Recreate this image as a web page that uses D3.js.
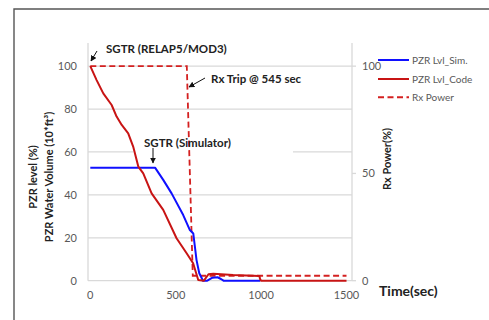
<!DOCTYPE html>
<html>
<head>
<meta charset="utf-8">
<script src="https://cdn.jsdelivr.net/npm/d3@7"></script>
<style>
  body { margin: 0; background: #fff; }
  svg { font-family: Lato, "Open Sans", sans-serif; }
</style>
</head>
<body>
<svg id="chart" width="489" height="320"></svg>
<script>
// time (sec) and PZR level from the simulator
const simTime = [0, 379, 427, 476, 544, 583, 603, 622, 638, 660, 685, 715, 745, 765, 780, 995];
const simLevel = [52.7, 52.7, 47, 40.7, 30.6, 23.6, 22, 9.6, 3.5, 0, 0, 1.4, 1.6, 0.8, 0, 0];

// PZR level from RELAP5/MOD3
const codeTime = [0, 37, 76, 125, 154, 184, 222, 251, 281, 310, 359, 427, 505, 564, 602, 632, 665, 692, 720, 836, 990, 994, 1000, 1500];
const codeLevel = [100, 93.5, 87.3, 81.9, 76.5, 72.6, 68.7, 62.5, 53.2, 50, 40.7, 33, 19.8, 12.8, 8.1, 0.3, 0, 3, 3.2, 2.6, 2.2, 0.8, 0, 0];

// reactor power (%)
const powerTime = [0, 565, 600, 1500];
const powerValue = [100, 100, 2.3, 2.3];

const xTicks = [0, 500, 1000, 1500];
const leftTicks = [0, 20, 40, 60, 80, 100];
const rightTicks = [0, 50, 100];

const svg = d3.select("#chart");

const x = d3.scaleLinear().domain([0, 1500]).range([90.3, 346.5]);
const yL = d3.scaleLinear().domain([0, 110]).range([280.7, 44.7]);
const yR = d3.scaleLinear().domain([0, 110]).range([280.7, 44.7]);
const plotLeft = 88, plotRight = 352;

// outer frame
svg.append("path")
  .attr("d", "M14,322 L14,9 L492,9")
  .attr("fill", "none")
  .attr("stroke", "#555")
  .attr("stroke-width", 1.4);

// gridlines
svg.append("g").selectAll("line")
  .data(leftTicks)
  .enter().append("line")
  .attr("x1", plotLeft).attr("x2", plotRight)
  .attr("y1", d => yL(d)).attr("y2", d => yL(d))
  .attr("stroke", "#d9d9d9")
  .attr("stroke-width", 1.3);

// axis lines
svg.append("line").attr("x1", plotLeft).attr("x2", plotLeft).attr("y1", 43).attr("y2", yL(0))
  .attr("stroke", "#d9d9d9").attr("stroke-width", 1.3);
svg.append("line").attr("x1", plotRight).attr("x2", plotRight).attr("y1", 43).attr("y2", yL(0))
  .attr("stroke", "#d9d9d9").attr("stroke-width", 1.3);
svg.append("g").selectAll("line")
  .data(rightTicks)
  .enter().append("line")
  .attr("x1", plotRight).attr("x2", plotRight + 4)
  .attr("y1", d => yR(d)).attr("y2", d => yR(d))
  .attr("stroke", "#d9d9d9").attr("stroke-width", 1.3);

// white text box behind "SGTR (Simulator)"
svg.append("rect").attr("x", 133).attr("y", 132).attr("width", 160).attr("height", 21).attr("fill", "#fff");

// tick labels
svg.append("g").selectAll("text")
  .data(leftTicks)
  .enter().append("text")
  .attr("x", 77).attr("y", d => yL(d)).attr("dy", "0.35em")
  .attr("text-anchor", "end")
  .attr("font-size", 11).attr("fill", "#595959")
  .text(d => d);

svg.append("g").selectAll("text")
  .data(rightTicks)
  .enter().append("text")
  .attr("x", 362).attr("y", d => yR(d)).attr("dy", "0.35em")
  .attr("text-anchor", "start")
  .attr("font-size", 11).attr("fill", "#595959")
  .text(d => d);

svg.append("g").selectAll("text")
  .data(xTicks)
  .enter().append("text")
  .attr("x", d => x(d)).attr("y", 295).attr("dy", "0.35em")
  .attr("text-anchor", "middle")
  .attr("font-size", 11).attr("fill", "#595959")
  .text(d => d);

// series
const line = (ts, vs, yScale) => d3.line()
  .x((d, i) => x(ts[i]))
  .y(d => yScale(d))(vs);

svg.append("path").attr("d", line(powerTime, powerValue, yR))
  .attr("fill", "none").attr("stroke", "#d42020").attr("stroke-width", 1.8)
  .attr("stroke-dasharray", "6,3.5");

svg.append("path").attr("d", line(simTime, simLevel, yL))
  .attr("fill", "none").attr("stroke", "#1010ff").attr("stroke-width", 2)
  .attr("stroke-linejoin", "round");

svg.append("path").attr("d", line(codeTime, codeLevel, yL))
  .attr("fill", "none").attr("stroke", "#c81414").attr("stroke-width", 2)
  .attr("stroke-linejoin", "round");

// axis titles
svg.append("text")
  .attr("transform", "translate(37,177) rotate(-90)")
  .attr("text-anchor", "middle").attr("font-size", 11).attr("font-weight", "bold").attr("fill", "#222")
  .text("PZR level (%)");
svg.append("text")
  .attr("transform", "translate(53,177) rotate(-90)")
  .attr("text-anchor", "middle").attr("font-size", 11).attr("font-weight", "bold").attr("fill", "#222")
  .text("PZR Water Volume (10*ft³)");
svg.append("text")
  .attr("transform", "translate(391,159) rotate(-90)")
  .attr("text-anchor", "middle").attr("font-size", 11).attr("font-weight", "bold").attr("fill", "#222")
  .text("Rx Power(%)");
svg.append("text")
  .attr("x", 379).attr("y", 291).attr("dy", "0.35em")
  .attr("font-size", 14).attr("font-weight", "bold").attr("fill", "#222")
  .text("Time(sec)");

// legend
const legend = [
  { name: "PZR Lvl_Sim.", color: "#1010ff", dash: null, y: 60 },
  { name: "PZR Lvl_Code", color: "#c81414", dash: null, y: 79 },
  { name: "Rx Power", color: "#d42020", dash: "6,3.5", y: 97.3 }
];
const lg = svg.append("g").selectAll("g").data(legend).enter().append("g");
lg.append("line")
  .attr("x1", 378).attr("x2", 409)
  .attr("y1", d => d.y).attr("y2", d => d.y)
  .attr("stroke", d => d.color).attr("stroke-width", 2)
  .attr("stroke-dasharray", d => d.dash);
lg.append("text")
  .attr("x", 412).attr("y", d => d.y).attr("dy", "0.35em")
  .attr("font-size", 10).attr("fill", "#595959")
  .text(d => d.name);

// annotations
const arrowHead = svg.append("defs").append("marker")
  .attr("id", "arr").attr("viewBox", "0 0 10 10").attr("refX", 9).attr("refY", 5)
  .attr("markerWidth", 6).attr("markerHeight", 6).attr("orient", "auto");
arrowHead.append("path").attr("d", "M0,0 L10,5 L0,10 z").attr("fill", "#111");

const notes = [
  { text: "SGTR (RELAP5/MOD3)", x: 106, y: 49, ax1: 97, ay1: 51, ax2: 91, ay2: 61 },
  { text: "Rx Trip @ 545 sec", x: 211, y: 79, ax1: 205, ay1: 78, ax2: 189, ay2: 87 },
  { text: "SGTR (Simulator)", x: 144, y: 143, ax1: 153, ay1: 148, ax2: 153, ay2: 163 }
];
const ng = svg.append("g").selectAll("g").data(notes).enter().append("g");
ng.append("text")
  .attr("x", d => d.x).attr("y", d => d.y).attr("dy", "0.35em")
  .attr("font-size", 11.5).attr("font-weight", "bold").attr("fill", "#222")
  .text(d => d.text);
ng.append("line")
  .attr("x1", d => d.ax1).attr("y1", d => d.ay1)
  .attr("x2", d => d.ax2).attr("y2", d => d.ay2)
  .attr("stroke", "#111").attr("stroke-width", 1)
  .attr("marker-end", "url(#arr)");
</script>
</body>
</html>
